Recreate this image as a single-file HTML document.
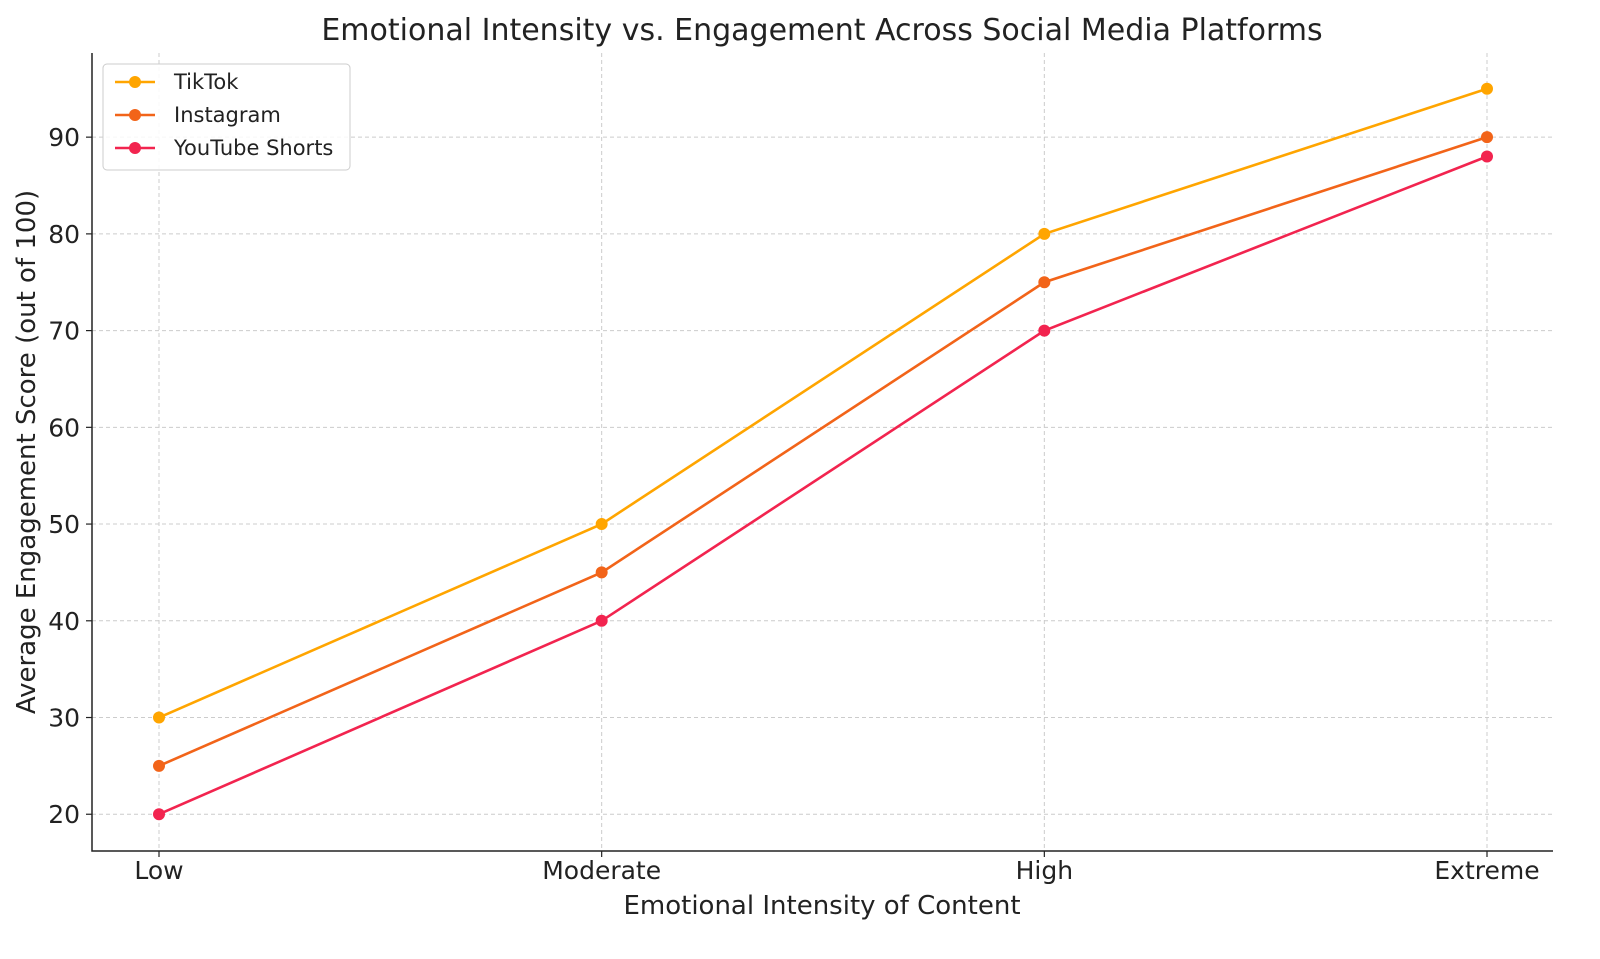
<!DOCTYPE html>
<html><head><meta charset="utf-8">
<style>
body{margin:0;background:#fff;}
svg text{font-family:"DejaVu Sans","Liberation Sans",sans-serif;fill:#222;}
</style></head>
<body>
<svg id="chart" width="1600" height="954" viewBox="0 0 1600 954" xmlns="http://www.w3.org/2000/svg">
<rect width="1600" height="954" fill="#fff"/>
<text x="822" y="40" text-anchor="middle" font-size="30">Emotional Intensity vs. Engagement Across Social Media Platforms</text>
<g id="grid"></g>
<g id="axes"></g>
<g id="series"></g>
<text x="822" y="914" text-anchor="middle" font-size="26">Emotional Intensity of Content</text>
<text transform="translate(35,452) rotate(-90)" text-anchor="middle" font-size="26">Average Engagement Score (out of 100)</text>
<g id="legend"></g>
</svg>
<script>
const categories = ["Low","Moderate","High","Extreme"];
const tiktok = [30,50,80,95];
const instagram = [25,45,75,90];
const youtube = [20,40,70,88];
const yTicks = [20,30,40,50,60,70,80,90];
const seriesNames = ["TikTok","Instagram","YouTube Shorts"];
const seriesColors = ["#FFA500","#F26419","#F2244F"];

const NS="http://www.w3.org/2000/svg";
const L=92,R=1553,T=53,B=851;
const yMin=16.2,yMax=98.7;
const xFirst=159,xLast=1487;
function xs(i){return xFirst+(xLast-xFirst)*i/(categories.length-1);}
function ys(v){return B-(v-yMin)/(yMax-yMin)*(B-T);}
function mk(tag,attrs,parent){const e=document.createElementNS(NS,tag);for(const k in attrs)e.setAttribute(k,attrs[k]);parent.appendChild(e);return e;}
const grid=document.getElementById('grid'),axes=document.getElementById('axes'),ser=document.getElementById('series'),leg=document.getElementById('legend');
categories.forEach((c,i)=>{
 const g=mk('line',{x1:xs(i),x2:xs(i),y1:T,y2:B,stroke:"#ccc","stroke-dasharray":"4,3","stroke-width":1},grid);
 
 
 const tk=mk('line',{x1:xs(i),x2:xs(i),y1:B,y2:B+6,stroke:"#222","stroke-width":1.2},axes);
 
 
 const t=mk('text',{x:xs(i),y:B+28,"text-anchor":"middle","font-size":"25"},axes);
 t.textContent=c;
 
 
});
yTicks.forEach(v=>{
 const g=mk('line',{x1:L,x2:R,y1:ys(v),y2:ys(v),stroke:"#ccc","stroke-dasharray":"4,3","stroke-width":1},grid);
 
 
 const tk=mk('line',{x1:L-6,x2:L,y1:ys(v),y2:ys(v),stroke:"#222","stroke-width":1.2},axes);
 
 
 const t=mk('text',{x:L-12,y:ys(v)+9,"text-anchor":"end","font-size":"25"},axes);
 t.textContent=v;
 
 
});
const ax=mk('path',{d:`M${L},${T} L${L},${B} L${R},${B}`,fill:"none",stroke:"#222","stroke-width":1.5},axes);


[tiktok,instagram,youtube].forEach((arr,si)=>{
 const col=seriesColors[si];
 const p=mk('polyline',{points:arr.map((v,i)=>xs(i)+","+ys(v)).join(" "),fill:"none",stroke:col,"stroke-width":2.6},ser);
 
 
 arr.forEach((v,i)=>{
  const c=mk('circle',{cx:xs(i),cy:ys(v),r:6,fill:col},ser);
  
  
 });
});
const box=mk('rect',{x:103,y:64,width:247,height:106,rx:4,fill:"#fff","fill-opacity":0.85,stroke:"#ccc"},leg);


seriesNames.forEach((n,i)=>{
 const y=82+i*33;
 const ln=mk('line',{x1:115,x2:155,y1:y,y2:y,stroke:seriesColors[i],"stroke-width":2.6},leg);
 
 
 const c=mk('circle',{cx:135,cy:y,r:6,fill:seriesColors[i]},leg);
 
 
 const t=mk('text',{x:174,y:y+7,"font-size":"21"},leg);
 t.textContent=n;
 
 
});
</script>
</body></html>
